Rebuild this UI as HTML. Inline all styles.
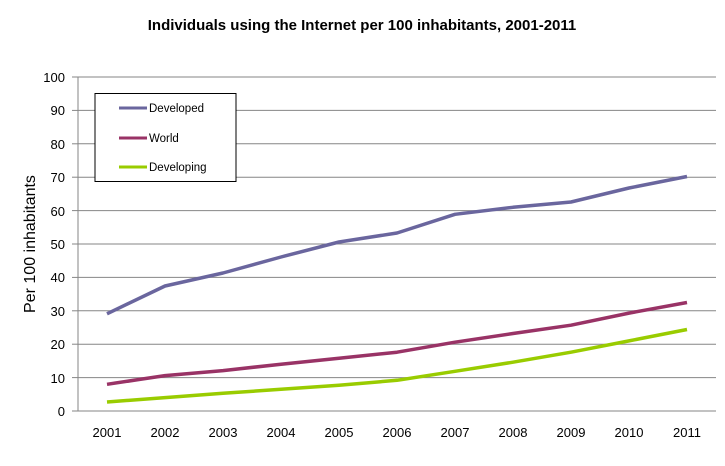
<!DOCTYPE html>
<html><head><style>body{margin:0;background:#fff}svg{display:block;font-family:"Liberation Sans",Calibri,sans-serif}</style></head><body>
<svg width="725" height="466" viewBox="0 0 725 466" xmlns="http://www.w3.org/2000/svg">
<text x="362" y="30" text-anchor="middle" font-size="15" font-weight="bold">Individuals using the Internet per 100 inhabitants, 2001-2011</text>
<g stroke="#868686" stroke-width="1">
<line x1="78" y1="77" x2="716" y2="77"/><line x1="78" y1="110.4" x2="716" y2="110.4"/><line x1="78" y1="143.8" x2="716" y2="143.8"/><line x1="78" y1="177.2" x2="716" y2="177.2"/><line x1="78" y1="210.6" x2="716" y2="210.6"/><line x1="78" y1="244" x2="716" y2="244"/><line x1="78" y1="277.4" x2="716" y2="277.4"/><line x1="78" y1="310.8" x2="716" y2="310.8"/><line x1="78" y1="344.2" x2="716" y2="344.2"/><line x1="78" y1="377.6" x2="716" y2="377.6"/><line x1="78" y1="411" x2="716" y2="411"/>
<line x1="78" y1="77" x2="78" y2="411"/>
<line x1="72" y1="77" x2="78" y2="77"/><line x1="72" y1="110.4" x2="78" y2="110.4"/><line x1="72" y1="143.8" x2="78" y2="143.8"/><line x1="72" y1="177.2" x2="78" y2="177.2"/><line x1="72" y1="210.6" x2="78" y2="210.6"/><line x1="72" y1="244" x2="78" y2="244"/><line x1="72" y1="277.4" x2="78" y2="277.4"/><line x1="72" y1="310.8" x2="78" y2="310.8"/><line x1="72" y1="344.2" x2="78" y2="344.2"/><line x1="72" y1="377.6" x2="78" y2="377.6"/><line x1="72" y1="411" x2="78" y2="411"/>
</g>
<g font-size="13" text-anchor="end">
<text x="65" y="82">100</text><text x="65" y="115">90</text><text x="65" y="149">80</text><text x="65" y="182">70</text><text x="65" y="216">60</text><text x="65" y="249">50</text><text x="65" y="282">40</text><text x="65" y="316">30</text><text x="65" y="349">20</text><text x="65" y="383">10</text><text x="65" y="416">0</text>
</g>
<g font-size="13" text-anchor="middle">
<text x="107" y="437">2001</text><text x="165" y="437">2002</text><text x="223" y="437">2003</text><text x="281" y="437">2004</text><text x="339" y="437">2005</text><text x="397" y="437">2006</text><text x="455" y="437">2007</text><text x="513" y="437">2008</text><text x="571" y="437">2009</text><text x="629" y="437">2010</text><text x="687" y="437">2011</text>
</g>
<text transform="translate(35,244) rotate(-90)" text-anchor="middle" font-size="16">Per 100 inhabitants</text>
<g fill="none" stroke-width="3.5" stroke-linejoin="round">
<polyline stroke="#6a669e" points="107,313.8 165,286 223,273 281,257 339,242 397,233 455,214.3 513,207.3 571,202 629,188 687,176.5"/>
<polyline stroke="#993366" points="107,384.3 165,375.6 223,370.6 281,364.2 339,358.2 397,352.2 455,342.2 513,333.5 571,325.2 629,313.1 687,302.5"/>
<polyline stroke="#99cc00" points="107,402 165,397.6 223,393.3 281,389.3 339,385.3 397,380.3 455,371.3 513,362.2 571,352.2 629,340.9 687,329.5"/>
</g>
<rect x="95" y="93.5" width="141" height="88" fill="#fff" stroke="#000" stroke-width="1"/>
<line x1="119" y1="108" x2="147" y2="108" stroke="#6a669e" stroke-width="3"/>
<line x1="119" y1="138" x2="147" y2="138" stroke="#993366" stroke-width="3"/>
<line x1="119" y1="167" x2="147" y2="167" stroke="#99cc00" stroke-width="3"/>
<g font-size="11.5"><text x="149" y="112">Developed</text><text x="149" y="142">World</text><text x="149" y="171">Developing</text></g>
</svg>
</body></html>
